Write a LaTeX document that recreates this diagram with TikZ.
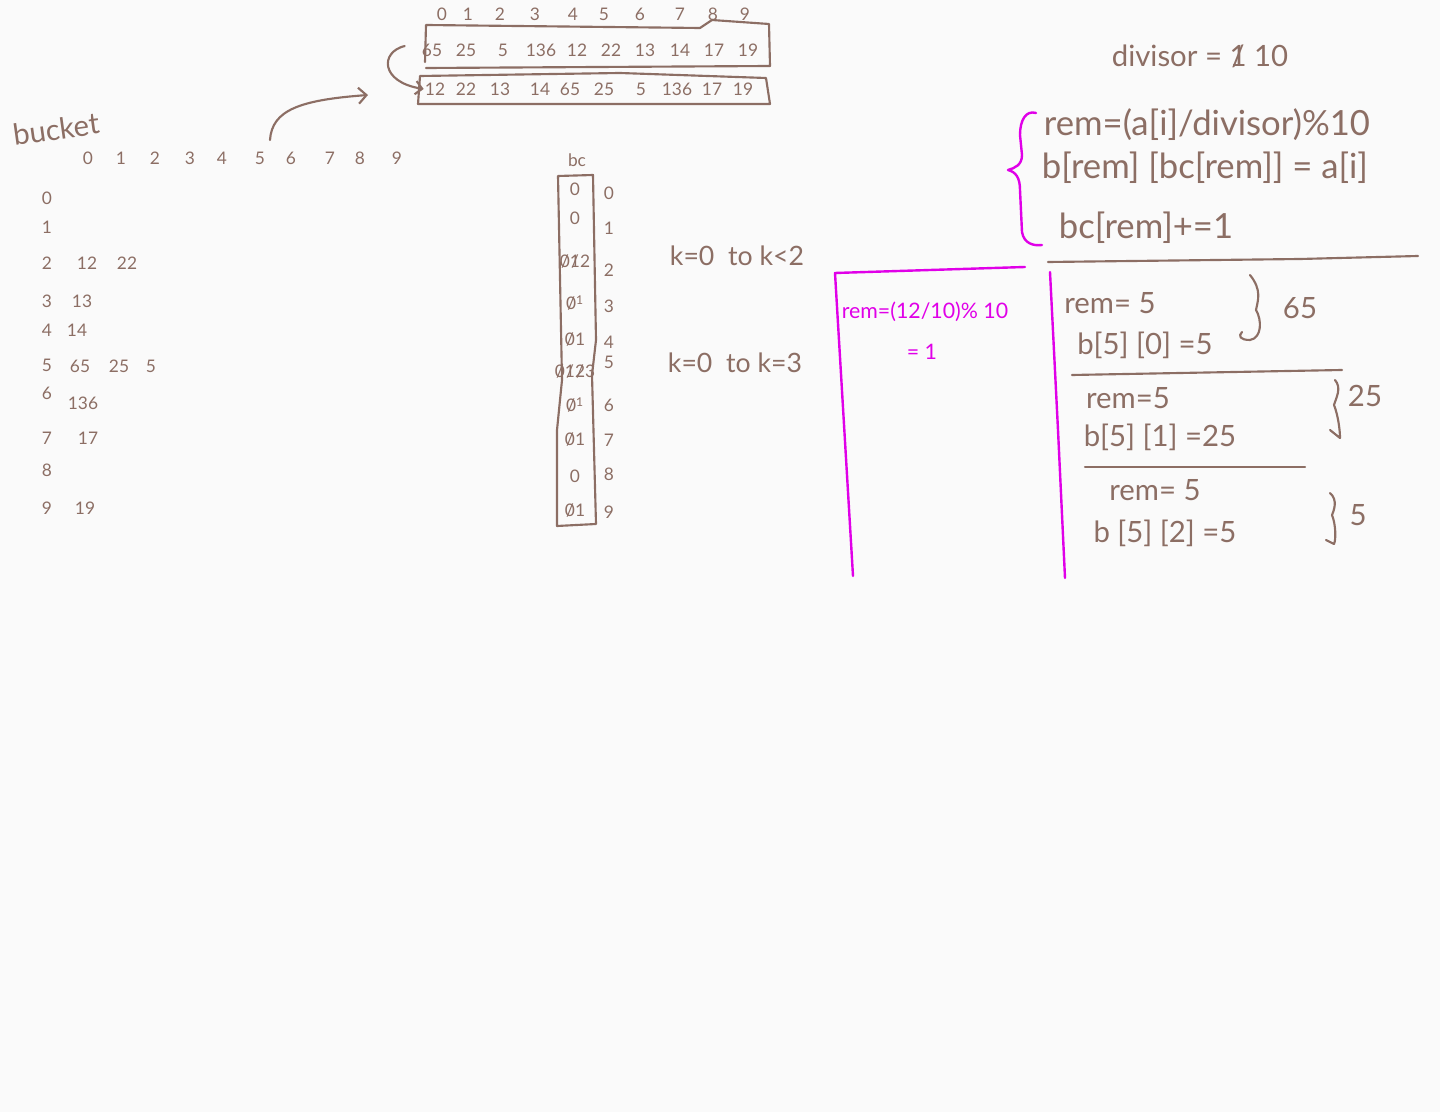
\documentclass[tikz,border=0pt]{standalone}
\usepackage{fontspec}
\setmainfont{Lato}
\usetikzlibrary{arrows.meta}
\definecolor{pen}{RGB}{140,110,100}
\definecolor{ink}{RGB}{224,0,232}
\definecolor{board}{RGB}{250,250,250}
\newcommand{\strk}[1]{\ooalign{#1\cr\hidewidth/\hidewidth}}
\tikzset{
  hand/.style={pen,line width=1.6pt,line cap=round,line join=round},
  mag/.style={ink,line width=1.8pt,line cap=round,line join=round},
  code/.style={pen,inner sep=0.75pt,font=\fontsize{26}{30}\selectfont},
  big/.style={pen,inner sep=0.75pt,font=\fontsize{22}{26}\selectfont},
  mid/.style={pen,inner sep=0.75pt,font=\fontsize{20}{24}\selectfont},
  small/.style={pen,inner sep=0.75pt,font=\fontsize{13}{15}\selectfont},
  magtext/.style={ink,inner sep=0.75pt,font=\fontsize{16}{19}\selectfont}
}
\begin{document}
\begin{tikzpicture}[x=0.75pt,y=0.75pt,yscale=-1,xscale=1]
\fill[board] (0,0) rectangle (1440,1112);
\useasboundingbox (0,0) rectangle (1440,1112);

%Shape: top array
\draw[hand] (425,62) -- (426,25) -- (700,28) -- (712,20) -- (769,24) -- (770,66) -- (426,68) ;
\draw[hand] (420,76) -- (620,73) -- (766,78) -- (770,104) -- (418,104) -- cycle ;

% Text Node (indices)
\foreach \i/\x in {0/442,1/468,2/500,3/535,4/573,5/604,6/640,7/680,8/713,9/745}
  \draw (\x,14) node[small] (ai\i) {\i};
% Text Node (first pass)
\foreach \v/\x [count=\n] in {65/432,25/466,5/503,136/541,12/577,22/611,13/645,14/680,17/714,19/748}
  \draw (\x,50) node[small] (a\n) {\v};
% Text Node (second pass)
\foreach \v/\x [count=\n] in {12/435,22/466,13/500,14/540,65/570,25/604,5/641,136/677,17/712,19/743}
  \draw (\x,89) node[small] (c\n) {\v};

%Curved arrow between passes
\draw[hand,-{Straight Barb[length=5pt]}] (a1.west) ++(-16,-4) .. controls (380,52) and (380,82) .. (c1.west);

% Text Node
\draw (56,129) node[big,rotate=8] (bucket) {bucket};
\foreach \i/\x in {0/88,1/121,2/155,3/190,4/222,5/260,6/291,7/330,8/360,9/397}
  \draw (\x,158) node[small] (col\i) {\i};
\foreach \i/\y in {0/198,1/227,2/263,3/301,4/330,5/365,6/393,7/438,8/470,9/508}
  \draw (47,\y) node[small] (row\i) {\i};
\draw (87,263) node[small] {12};
\draw (127,263) node[small] {22};
\draw (82,301) node[small] {13};
\draw (77,330) node[small] {14};
\draw (80,366) node[small] {65};
\draw (119,366) node[small] {25};
\draw (151,366) node[small] {5};
\draw (83,403) node[small] {136};
\draw (88,438) node[small] {17};
\draw (85,508) node[small] {19};

%Curved arrow from bucket to array
\coordinate (fromb) at (270,140);
\coordinate (tob) at (368,95);
\draw[hand,-{Straight Barb[length=6pt]}] (fromb) .. controls (272,110) and (300,100) .. (tob);

%Shape: bc column
\draw[hand] (558,176) -- (593,175) -- (596,340) -- (592,375) -- (596,524) -- (557,526) -- (557,430) -- (562,380) -- (558,176) ;
\draw (577,160) node[small] (bc) {bc};
\foreach \v/\y [count=\n from 0] in {0/189,0/218,\strk{0}\strk{1}2/262,\strk{0}\textsuperscript{1}/303,\strk{0}1/340,\strk{0}\strk{1}\strk{2}3/372,\strk{0}\textsuperscript{1}/405,\strk{0}1/440,0/476,\strk{0}1/511}
  \draw (575,\y) node[small] (bcv\n) {\v};
\foreach \i/\y in {0/193,1/228,2/270,3/306,4/342,5/362,6/405,7/440,8/474,9/512}
  \draw (609,\y) node[small] (bci\i) {\i};

% Text Node
\draw (737,256) node[mid] (kone) {k=0\ \ to k<2};
\draw (735,363) node[mid] (ktwo) {k=0\ \ to k=3};

% Text Node
\draw (1200,56) node[big] (div) {divisor = \strk{1} 10};
\draw (1207,125) node[code] (l1) {rem=(a[i]/divisor)\%10};
\draw (1205,168) node[code] (l2) {b[rem] [bc[rem]] = a[i]};
\draw (1146,228) node[code] (l3) {bc[rem]+=1};
%Magenta brace
\draw[mag] (1036,113) .. controls (1026,110) and (1020,120) .. (1020,135) -- (1022,155) .. controls (1022,165) and (1015,168) .. (1008,170) .. controls (1016,172) and (1020,178) .. (1020,190) -- (1022,232) .. controls (1024,244) and (1034,246) .. (1042,245) ;
\draw[hand] (1048,262) -- (1300,259) -- (1418,256) ;

%Magenta box
\draw[mag] (1025,267) -- (835,273) -- (853,576) ;
\draw[mag] (1050,272) -- (1058,430) -- (1065,578) ;
\draw (925,312) node[magtext] (m1) {rem=(12/10)\% 10};
\draw (922,352) node[magtext] (m2) {= 1};

% Text Node (steps)
\draw (1110,303) node[big] (s1) {rem= 5};
\draw (1145,345) node[big] (s2) {b[5] [0] =5};
\draw (1128,398) node[big] (s3) {rem=5};
\draw (1160,437) node[big] (s4) {b[5] [1] =25};
\draw (1155,490) node[big] (s5) {rem= 5};
\draw (1165,533) node[big] (s6) {b [5] [2] =5};
\draw[hand] (1072,375) -- (1342,370) ;
\draw[hand] (1085,467) -- (1305,467) ;
%Braces
\draw[hand] (1250,275) .. controls (1262,290) and (1258,300) .. (1256,310) .. controls (1262,320) and (1262,338) .. (1250,340) .. controls (1240,340) and (1238,336) .. (1242,332) ;
\draw[hand] (1335,380) .. controls (1342,388) and (1336,398) .. (1334,405) .. controls (1338,415) and (1340,430) .. (1340,438) -- (1330,430) ;
\draw[hand] (1330,493) .. controls (1338,500) and (1334,510) .. (1332,515) .. controls (1336,525) and (1336,540) .. (1334,544) -- (1326,540) ;
\draw (1300,308) node[big] (t1) {65};
\draw (1365,396) node[big] (t2) {25};
\draw (1358,515) node[big] (t3) {5};
\end{tikzpicture}
\end{document}
